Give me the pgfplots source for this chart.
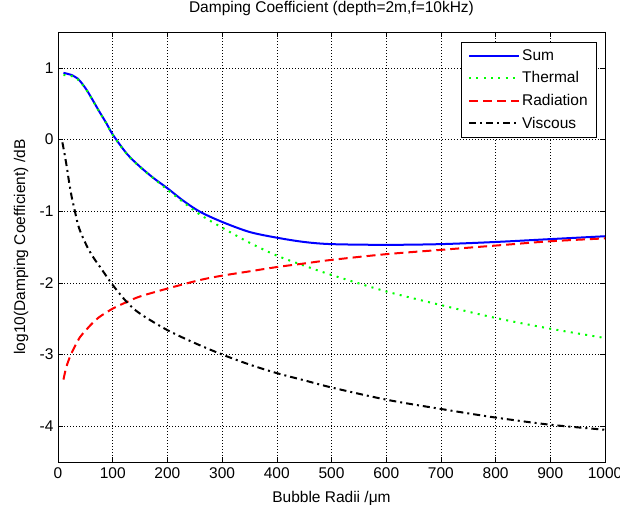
\documentclass[border=0pt]{standalone}
\usepackage{pgfplots}
\pgfplotsset{compat=1.18}
\usepackage{fontspec}
\setmainfont{Liberation Sans}
\definecolor{mblue}{RGB}{0,0,255}
\definecolor{mgreen}{RGB}{0,255,0}
\definecolor{mred}{RGB}{255,0,0}
\newcommand{\ff}{\fontsize{15.5}{18}\selectfont}
\begin{document}
\begin{tikzpicture}[x=1pt,y=1pt]
\useasboundingbox (0,0) rectangle (620,510);
\begin{axis}[
  at={(58pt,48pt)}, anchor=south west,
  scale only axis, width=547pt, height=430pt,
  xmin=0, xmax=1000, ymin=-4.5, ymax=1.5,
  xtick={0,100,...,1000}, ytick={-4,-3,-2,-1,0,1},
  grid=major,
  major grid style={black, line width=0.6pt, dash pattern=on 1pt off 2pt},
  tick align=inside, major tick length=5pt,
  axis line style={black, line width=0.9pt},
  every tick/.style={black, line width=0.6pt},
  ticklabel style={font=\ff},
  /pgf/number format/assume math mode=true,
  /pgf/number format/1000 sep={},
  xticklabel style={yshift=-2pt},
  yticklabel style={xshift=-1pt},
  title={Damping Coefficient (depth=2m,f=10kHz)},
  title style={font=\ff, at={(axis description cs:0.5,1)}, anchor=center, yshift=18pt},
  xlabel={Bubble Radii /μm},
  xlabel style={font=\ff, at={(axis description cs:0.5,0)}, anchor=center, yshift=-36pt},
  ylabel={log10(Damping Coefficient) /dB},
  ylabel style={font=\ff, at={(axis description cs:0,0.5)}, anchor=center, yshift=37pt},
  legend style={at={(axis description cs:1,1)}, anchor=north east, xshift=-8pt, yshift=-10pt,
    draw=black, line width=0.7pt, font=\ff, row sep=6pt, inner xsep=7pt, inner ysep=5pt},
  legend cell align=left,
  legend image code/.code={\draw[#1] (0pt,0pt) -- (50pt,0pt);},
]
\addplot[mblue, line width=2pt, smooth, tension=0.5] coordinates {
(10,0.93) (18,0.915) (25,0.90) (31,0.875) (36,0.85) (42,0.80) (48,0.74) (55,0.66) (65,0.53) (74,0.41) (89,0.22)
(100,0.07) (126,-0.20) (150,-0.38) (175,-0.54) (200,-0.68) (230,-0.86) (260,-1.01)
(300,-1.15) (350,-1.29) (400,-1.37) (450,-1.43) (500,-1.46) (600,-1.47) (700,-1.46)
(800,-1.43) (900,-1.39) (1000,-1.35)};
\addlegendentry{Sum}
\addplot[mgreen, line width=2pt, dash pattern=on 2pt off 5.3pt, smooth, tension=0.5] coordinates {
(10,0.90) (18,0.895) (25,0.885) (31,0.865) (36,0.84) (42,0.79) (48,0.735) (55,0.655) (65,0.525) (74,0.405) (89,0.215)
(100,0.065) (126,-0.205) (150,-0.385) (175,-0.545) (200,-0.70) (230,-0.88) (260,-1.05)
(300,-1.23) (350,-1.44) (400,-1.62) (450,-1.76) (500,-1.89) (600,-2.12) (700,-2.31)
(800,-2.49) (900,-2.64) (1000,-2.77)};
\addlegendentry{Thermal}
\addplot[mred, line width=2pt, dash pattern=on 9pt off 5pt, smooth, tension=0.5] coordinates {
(10,-3.35) (15,-3.18) (22,-3.03) (30,-2.90) (40,-2.76) (50,-2.67) (62,-2.57) (75,-2.48)
(100,-2.36) (125,-2.27) (150,-2.19) (200,-2.08) (260,-1.96) (300,-1.90) (350,-1.84)
(400,-1.78) (450,-1.73) (500,-1.68) (600,-1.60) (700,-1.54) (800,-1.48) (900,-1.42)
(1000,-1.38)};
\addlegendentry{Radiation}
\addplot[black, line width=2pt, dash pattern=on 7pt off 4pt on 2pt off 4pt, smooth, tension=0.5] coordinates {
(8,-0.04) (12,-0.20) (16,-0.38) (20,-0.58) (25,-0.80) (30,-0.97) (37,-1.20) (45,-1.36)
(55,-1.52) (65,-1.65) (77,-1.78) (100,-2.03) (126,-2.27) (150,-2.43) (200,-2.66)
(250,-2.84) (300,-3.00) (350,-3.14) (400,-3.26) (450,-3.36) (500,-3.46) (600,-3.63)
(700,-3.76) (800,-3.88) (900,-3.98) (1000,-4.05)};
\addlegendentry{Viscous}
\end{axis}
\end{tikzpicture}
\end{document}
